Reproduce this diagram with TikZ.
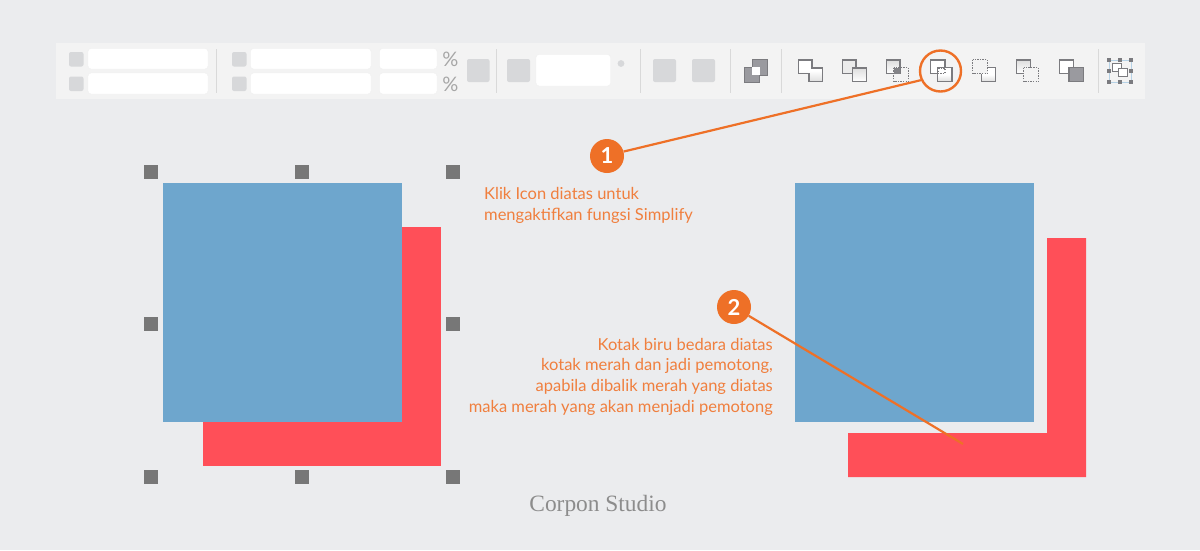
\documentclass[tikz,border=0pt]{standalone}
\usepackage{fontspec}
\setmainfont{Lato}
\newfontfamily\titlefont{Liberation Serif}
\usetikzlibrary{calc}
\definecolor{bgc}{HTML}{EBECEE}
\definecolor{barc}{HTML}{F3F3F3}
\definecolor{btnc}{HTML}{D7D8DA}
\definecolor{sepc}{HTML}{D9D9D9}
\definecolor{orangec}{HTML}{EE7027}
\definecolor{notec}{HTML}{F07F3E}
\definecolor{bluec}{HTML}{6EA6CD}
\definecolor{redc}{HTML}{FF4F58}
\definecolor{handlec}{HTML}{777777}
\definecolor{iconc}{HTML}{7B7B7F}
\definecolor{darkic}{HTML}{9A9A9F}
\tikzset{
  btn/.style={fill=btnc,rounded corners=2pt},
  field/.style={fill=white,draw=black!6,line width=.4pt,rounded corners=3pt},
  sepline/.style={draw=sepc,line width=1pt},
  pct/.style={text=black!35,font=\fontsize{20}{20}\selectfont,inner sep=0pt},
  solidic/.style={draw=iconc,line width=1.5pt},
  dotic/.style={draw=iconc,line width=1.2pt,dash pattern=on 1.4pt off 1.2pt},
  softic/.style={top color=white,bottom color=black!13,middle color=white},
  softrev/.style={top color=black!13,bottom color=white},
  handle/.style={fill=handlec,draw=none,minimum size=14pt,inner sep=0pt,anchor=center},
  badge/.style={circle,fill=orangec,minimum size=34pt,inner sep=0pt,text=white,font=\fontsize{22}{22}\selectfont\bfseries},
  conn/.style={draw=orangec,line width=2.2pt},
  note/.style={text=notec,font=\fontsize{16.5}{20.6}\selectfont,inner sep=0pt}
}
\begin{document}
\begin{tikzpicture}[x=1pt,y=-1pt]
\useasboundingbox (0,0) rectangle (1200,550);
\fill[bgc] (0,0) rectangle (1200,550);
% toolbar
\fill[barc] (55.5,43) rectangle (1145,98.5);
\foreach \x in {69,232}{
  \path[btn] (\x,52) rectangle +(14.5,14.5);
  \path[btn] (\x,76.5) rectangle +(14.5,14.5);
}
\path[field] (88,48.5) rectangle (208,69);
\path[field] (88,73) rectangle (208,94);
\path[field] (250.5,48.5) rectangle (371,69);
\path[field] (250.5,73) rectangle (371,94);
\path[field] (379.5,48.5) rectangle (437,69);
\path[field] (379.5,73) rectangle (437,94);
\node[pct] (p1) at (450.5,59) {\%};
\node[pct] (p2) at (450.5,84.5) {\%};
\path[btn] (467,59) rectangle (489.5,82);
\path[btn] (507,59) rectangle (530,82);
\path[field] (536,54.5) rectangle (610.5,86);
\fill[btnc] (621,63.5) circle (3.4);
\path[btn] (653,59) rectangle (676,82);
\path[btn] (692,59) rectangle (715,82);
\foreach \x in {216.5,496.5,640.5,730.5,781,1098}{
  \draw[sepline] (\x,49) -- (\x,93);
}
% arrange icon
\filldraw[fill=darkic,draw=iconc,line width=.8pt] (752,59.5) rectangle (767,75);
\filldraw[fill=darkic,draw=iconc,line width=.8pt] (744,67) rectangle (759.5,82);
\fill[white] (752,67) rectangle (759.5,75);
% unite
\path[solidic,softic] (798.5,60) -- (812,60) -- (812,68) -- (822.5,68) -- (822.5,81.5) -- (809,81.5) -- (809,73.5) -- (798.5,73.5) -- cycle;
% minus
\path[solidic,fill=black!8] (842.5,60) rectangle (856,73.5);
\path[solidic,softrev] (852.5,68) rectangle (866.5,81.5);
% intersect
\path[solidic,softrev] (886.5,60) rectangle (900,73.5);
\fill[darkic!85!black] (894,67.5) rectangle (900,73.5);
\path[dotic] (893.5,67.5) rectangle (908.5,81.5);
% exclude (highlighted)
\path[solidic,fill=white] (930.5,60) rectangle (945,73.5);
\path[solidic,softic] (937.5,67.5) rectangle (952,81.5);
\fill[white] (938.5,68.5) rectangle (944,72.5);
\path[dotic] (938,68) rectangle (945,73.5);
% minus back
\path[solidic,softic] (981.5,67.5) rectangle (995.5,81.5);
\path[dotic,fill=barc] (972.5,59.5) rectangle (987.5,73.5);
% minus front
\path[solidic,softrev] (1016.5,60) rectangle (1030.5,73.5);
\path[dotic,fill=barc] (1023.5,67.5) rectangle (1038.5,81.5);
% stacked
\path[solidic,fill=white] (1059.5,60) rectangle (1073.5,73.5);
\path[solidic,fill=darkic] (1069,67.5) rectangle (1083.5,81.5);
% transform
\draw[draw=bluec!50,line width=.6pt] (1109,60) rectangle (1131,82);
\foreach \x in {1109,1120,1131}{
  \fill[iconc] (\x-2,58) rectangle +(4,4);
  \fill[iconc] (\x-2,80) rectangle +(4,4);
}
\fill[iconc] (1107,69) rectangle +(4,4);
\fill[iconc] (1129,69) rectangle +(4,4);
\path[draw=iconc,line width=1pt,fill=white] (1112.5,63.5) rectangle (1121,71);
\path[draw=iconc,line width=1pt,fill=white] (1118,68.5) rectangle (1127,76);
% left composition
\fill[redc] (203,227) rectangle (441,466);
\fill[bluec] (163,183) rectangle (401.5,421.5);
\node[handle] (h1) at (151,172) {};
\node[handle] (h2) at (302,172) {};
\node[handle] (h3) at (453,172) {};
\node[handle] (h4) at (151,324) {};
\node[handle] (h5) at (453,324) {};
\node[handle] (h6) at (151,477) {};
\node[handle] (h7) at (302,477) {};
\node[handle] (h8) at (453,477) {};
% right composition
\fill[bluec] (795,183) rectangle (1034,421.5);
\fill[redc] (1047,238) -- (1086,238) -- (1086,477) -- (848,477) -- (848,433) -- (1047,433) -- cycle;
% annotations
\node[circle,draw=orangec,line width=2.4pt,minimum size=41pt,inner sep=0pt] (ring) at (940.5,71) {};
\node[badge] (b1) at (607,156) {1};
\node[badge] (b2) at (734,307) {2};
\coordinate (tip) at (963,444);
\draw[conn] (b1.15) -- (ring.205);
\draw[conn] (b2) -- (tip);
\node[note,anchor=base west,align=left] (t1) at (484,220) {Klik Icon diatas untuk\\mengaktifkan fungsi Simplify};
\node[note,anchor=base east,align=right] (t2) at (773,412) {Kotak biru bedara diatas\\kotak merah dan jadi pemotong,\\apabila dibalik merah yang diatas\\maka merah yang akan menjadi pemotong};
\node[text=black!45,font=\titlefont\fontsize{23.4}{23.4}\selectfont,inner sep=0pt,anchor=base] (cs) at (598,511) {Corpon Studio};
\end{tikzpicture}
\end{document}
